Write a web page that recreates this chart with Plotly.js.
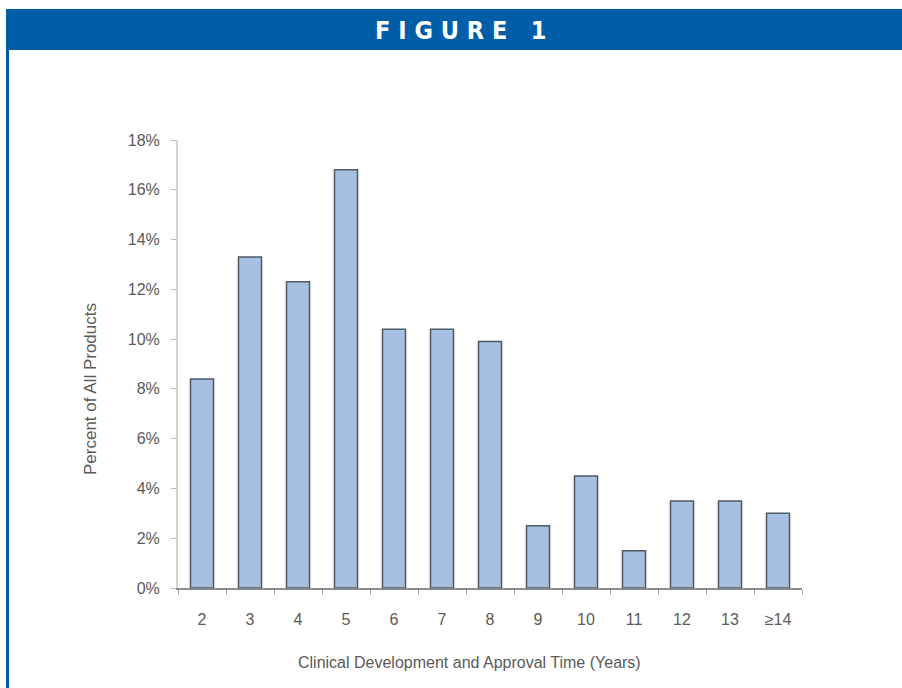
<!DOCTYPE html>
<html>
<head>
<meta charset="utf-8">
<script src="https://cdn.plot.ly/plotly-3.0.1.min.js"></script>
<style>
  html, body { margin: 0; padding: 0; background: #ffffff; }
  #chart { width: 902px; height: 688px; }
</style>
</head>
<body>
<div id="chart"></div>
<script>
const categories = ["2", "3", "4", "5", "6", "7", "8", "9", "10", "11", "12", "13", "\u226514"];
const percentOfProducts = [8.4, 13.3, 12.3, 16.8, 10.4, 10.4, 9.9, 2.5, 4.5, 1.5, 3.5, 3.5, 3.0];
const yTickValues = [0, 2, 4, 6, 8, 10, 12, 14, 16, 18];
const yTickLabels = ["0%", "2%", "4%", "6%", "8%", "10%", "12%", "14%", "16%", "18%"];
const figureLabel = "F I G U R E   1";
const xTitle = "Clinical Development and Approval Time (Years)";
const yTitle = "Percent of All Products";

const narrow = "Liberation Sans Narrow, Arial Narrow, Liberation Sans, Arial, sans-serif";
const blue = "#005ea8";
const textGray = "#5a5a5a";

const trace = {
  type: "bar",
  x: categories,
  y: percentOfProducts,
  marker: { color: "#a7bfe0", line: { color: "#4d5a66", width: 1.5 } },
  hoverinfo: "x+y"
};

// plot area: x 178..802, y 140..588
const L = 178, R = 802, T = 140, B = 588;
const px = v => (v - L) / (R - L);
const py = v => (B - v) / (B - T);

const layout = {
  width: 902, height: 688,
  margin: { l: L, r: 902 - R, t: T, b: 688 - B, pad: 0 },
  paper_bgcolor: "#ffffff",
  plot_bgcolor: "#ffffff",
  showlegend: false,
  bargap: 0.52,
  font: { family: narrow, color: textGray, size: 15 },
  xaxis: {
    type: "category",
    range: [-0.5, 12.5],
    tickson: "boundaries",
    ticks: "outside", ticklen: 4, tickcolor: "#999999", tickwidth: 1,
    ticklabelstandoff: 16,
    showline: true, linecolor: "#8a8a8a", linewidth: 1.5,
    showgrid: false, zeroline: false,
    tickfont: { family: narrow, size: 16, color: textGray },
    automargin: false
  },
  yaxis: {
    range: [0, 18],
    tickvals: yTickValues,
    ticktext: yTickLabels,
    ticks: "outside", ticklen: 5, tickcolor: "#bbbbbb", tickwidth: 1,
    ticklabelstandoff: 8,
    showline: true, linecolor: "#d2d2d2", linewidth: 2,
    showgrid: false, zeroline: false,
    tickfont: { family: narrow, size: 16, color: textGray },
    automargin: false
  },
  shapes: [
    { type: "rect", xref: "paper", yref: "paper", layer: "above",
      x0: px(6), x1: px(902), y0: py(50), y1: py(9),
      fillcolor: blue, line: { width: 0 } },
    { type: "line", xref: "paper", yref: "paper", layer: "above",
      x0: px(7.5), x1: px(7.5), y0: py(50), y1: py(690),
      line: { color: blue, width: 3 } }
  ],
  annotations: [
    { xref: "paper", yref: "paper", x: px(460), y: py(30), xanchor: "center", yanchor: "middle",
      text: "<b>" + figureLabel + "</b>", showarrow: false,
      font: { family: "DejaVu Sans Condensed, Liberation Sans Narrow, sans-serif", size: 25, color: "#ffffff" } },
    { xref: "paper", yref: "paper", x: px(469), y: py(662), xanchor: "center", yanchor: "middle",
      text: xTitle, showarrow: false,
      font: { family: narrow, size: 16, color: textGray } },
    { xref: "paper", yref: "paper", x: px(90), y: py(389), xanchor: "center", yanchor: "middle",
      text: yTitle, showarrow: false, textangle: -90,
      font: { family: narrow, size: 17, color: textGray } }
  ]
};

Plotly.newPlot("chart", [trace], layout, { displayModeBar: false, responsive: false });
</script>
</body>
</html>
